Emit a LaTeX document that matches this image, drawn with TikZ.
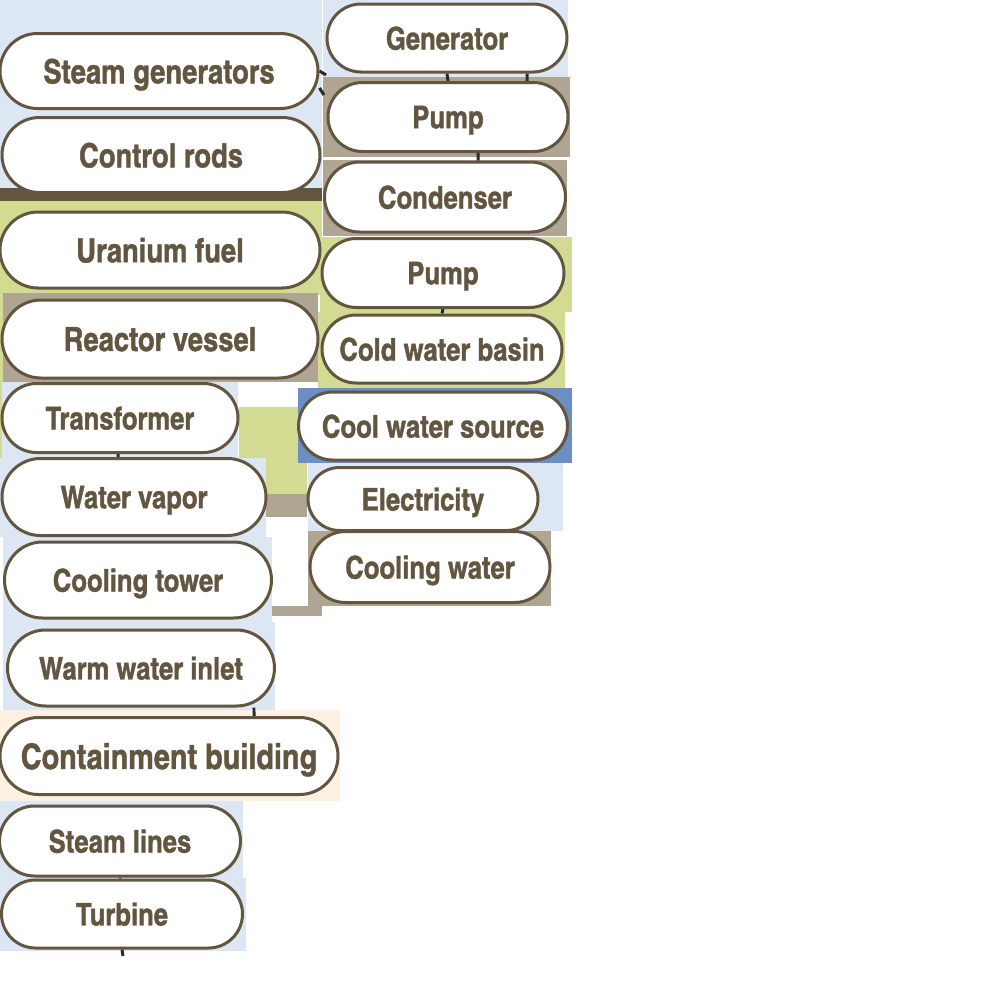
\documentclass[tikz,border=0pt]{standalone}
\usepackage{fontspec}
\setmainfont[FakeBold=1.2]{texgyreheroscn-bold.otf}
\usetikzlibrary{shapes.misc,backgrounds}

\definecolor{ink}{HTML}{625640}
\definecolor{wirec}{HTML}{2B2A26}
\definecolor{skyb}{HTML}{DDE6F3}
\definecolor{tanb}{HTML}{B0A593}
\definecolor{oliveb}{HTML}{D3DB93}
\definecolor{steelb}{HTML}{6A8FC0}
\definecolor{creamb}{HTML}{FEF1E2}

\begin{document}
\begin{tikzpicture}[x=0.1mm,y=-0.1mm,
    lbl/.style={rounded rectangle, draw=ink, line width=0.3mm, fill=white, text=ink,
      inner sep=0pt, text depth=0pt, font=\fontsize{8.9}{10}\selectfont},
    big/.style={lbl, font=\fontsize{9.5}{11}\selectfont},
    wire/.style={draw=wirec, line width=0.3mm}]
	\useasboundingbox (0,0) rectangle (1000,1000);

	\path (159,71) node[big, minimum width=31.8mm, minimum height=7.5mm] (n1) {Steam generators}
		(161,155) node[big, minimum width=31.8mm, minimum height=7.5mm] (n2) {Control rods}
		(160,250) node[big, minimum width=32mm, minimum height=7.6mm] (n3) {Uranium fuel}
		(160,339) node[big, minimum width=31.6mm, minimum height=7.8mm] (n4) {Reactor vessel}
		(120,418) node[lbl, minimum width=23.6mm, minimum height=6.9mm] (n5) {Transformer}
		(134,497) node[lbl, minimum width=26.4mm, minimum height=7.7mm] (n6) {Water vapor}
		(138,580) node[lbl, minimum width=26.7mm, minimum height=7.6mm] (n7) {Cooling tower}
		(141,668) node[lbl, minimum width=26.7mm, minimum height=7.6mm] (n8) {Warm water inlet}
		(169,756) node[big, minimum width=33.8mm, minimum height=7.7mm, font=\fontsize{10}{12}\selectfont] (n9) {Containment building}
		(120,841) node[lbl, minimum width=24.1mm, minimum height=7mm] (n10) {Steam lines}
		(122,914) node[lbl, minimum width=24.1mm, minimum height=6.8mm] (n11) {Turbine}
		(447,38) node[lbl, minimum width=24mm, minimum height=6.8mm] (n12) {Generator}
		(448,117) node[lbl, minimum width=24mm, minimum height=6.9mm] (n13) {Pump}
		(445,197) node[lbl, minimum width=24.1mm, minimum height=7mm] (n14) {Condenser}
		(443,273) node[lbl, minimum width=24.2mm, minimum height=6.9mm] (n15) {Pump}
		(442,349) node[lbl, minimum width=24mm, minimum height=6.8mm] (n16) {Cold water basin}
		(433,426) node[lbl, minimum width=26.9mm, minimum height=6.8mm] (n17) {Cool water source}
		(423,499) node[lbl, minimum width=23mm, minimum height=6.3mm] (n18) {Electricity}
		(430,567) node[lbl, minimum width=24mm, minimum height=7.1mm] (n19) {Cooling water};

	\coordinate (end1) at (123,956);
	\coordinate (sg1) at (326,75);
	\coordinate (sg2) at (324,95);
	\begin{scope}[on background layer]
		% backing panels
		\fill[skyb] (0,0) rectangle (322,188);
		\fill[ink] (0,188) rectangle (322,201);
		\fill[oliveb] (0,201) rectangle (322,295);
		\fill[oliveb] (0,295) rectangle (3,494) (239,407) rectangle (307,494);
		\fill[tanb] (3,293) rectangle (318,382);
		\fill[skyb] (2,382) rectangle (238,460);
		\fill[tanb] (266,494) rectangle (307,517);
		\fill[skyb] (0,458) rectangle (266,537);
		\fill[skyb] (3,537) rectangle (272,622);
		\fill[tanb] (272,606) rectangle (322,616);
		\fill[skyb] (3,622) rectangle (275,710);
		\fill[creamb] (0,710) rectangle (340,801);
		\fill[skyb] (0,801) rectangle (243,878);
		\fill[skyb] (0,878) rectangle (246,951);
		\fill[skyb] (323,0) rectangle (568,77);
		\fill[tanb] (323,77) rectangle (570,157);
		\fill[tanb] (323,160) rectangle (567,236);
		\fill[oliveb] (320,237) rectangle (572,312);
		\fill[oliveb] (318,312) rectangle (565,388);
		\fill[steelb] (298,388) rectangle (572,463);
		\fill[skyb] (308,463) rectangle (563,531);
		\fill[tanb] (308,531) rectangle (551,606);

		\draw[wire] (n12.south) -- (n13.north)
			([xshift=8mm]n12.south) -- ([xshift=7.9mm]n13.north)
			([xshift=3mm]n13.south) -- ([xshift=3.3mm]n14.north)
			(n15.south) -- (n16.north)
			([xshift=-0.2mm]n5.south) -- ([xshift=-1.6mm]n6.north)
			(n10.south) -- ([xshift=-0.2mm]n11.north)
			(n11.south) -- (end1)
			([xshift=11.3mm]n8.south) -- ([xshift=8.5mm]n9.north)
			(n1.east) -- (sg1)
			([yshift=-1.7mm]n1.east) -- (sg2);
	\end{scope}
\end{tikzpicture}
\end{document}
